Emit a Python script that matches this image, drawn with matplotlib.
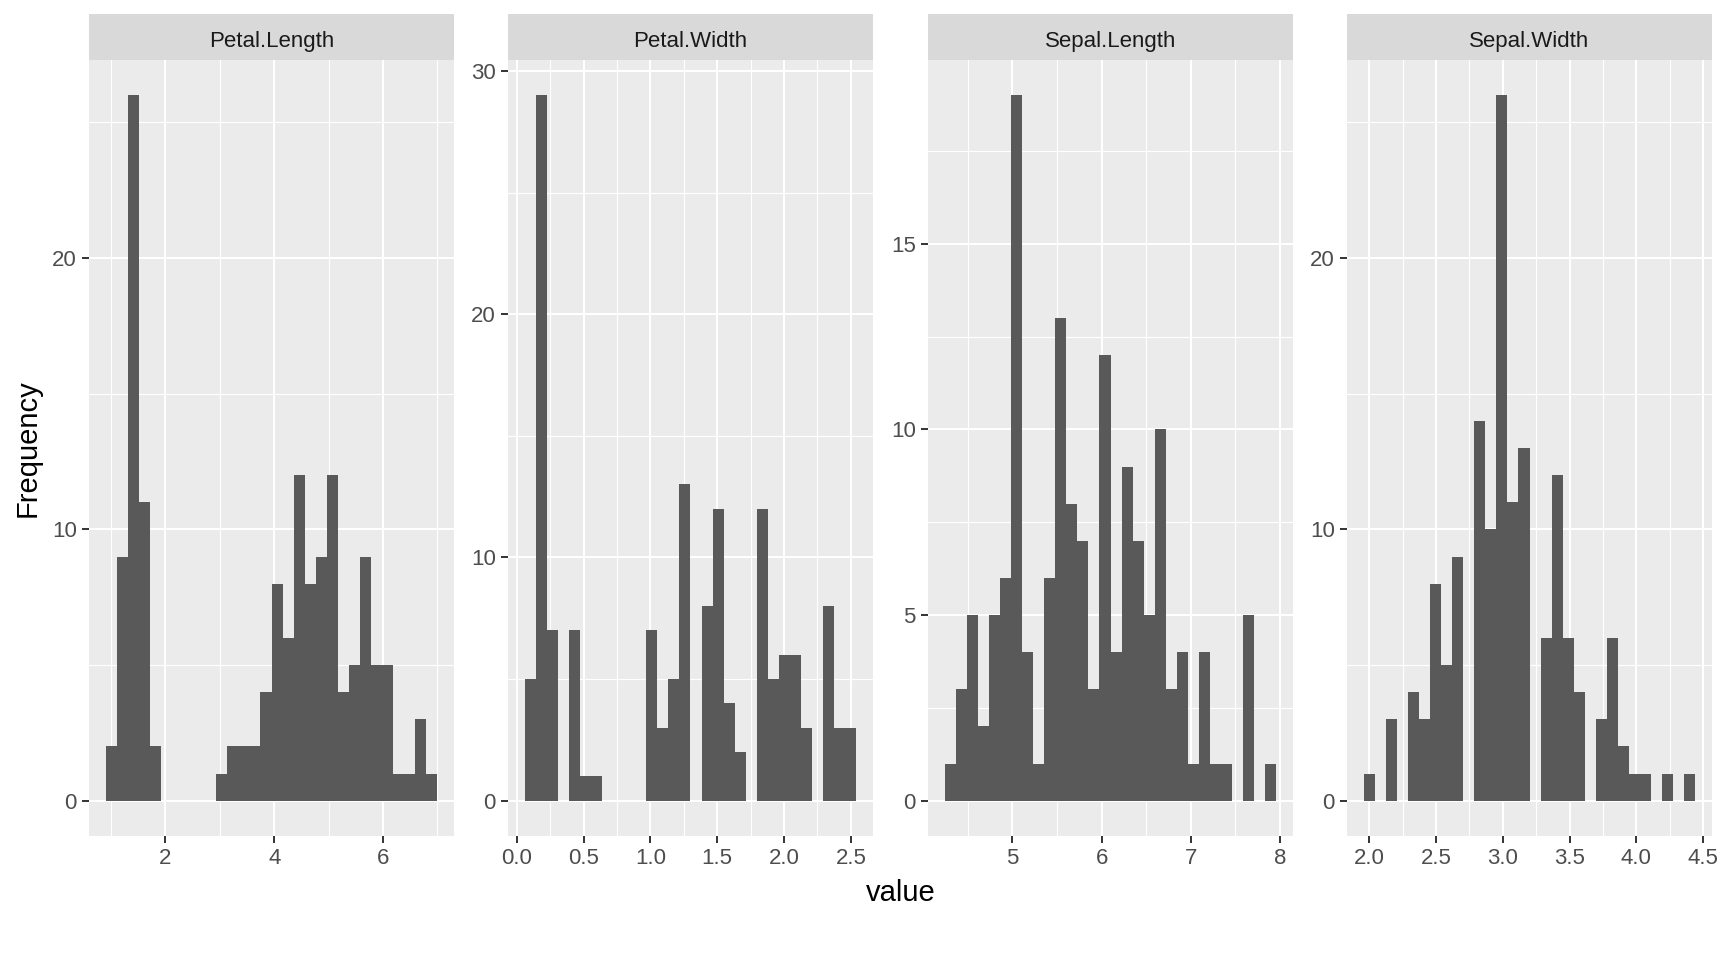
import numpy as np
import matplotlib
matplotlib.use("Agg")
import matplotlib.pyplot as plt
from matplotlib.ticker import MultipleLocator, FormatStrFormatter

plt.rcParams['font.family'] = ['Liberation Sans', 'DejaVu Sans']

# facet names
variables = ["Petal.Length", "Petal.Width", "Sepal.Length", "Sepal.Width"]

# min / max of each variable (30 bins, first and last bin centred on them)
petal_length_range = (1.0, 6.9)
petal_width_range = (0.1, 2.5)
sepal_length_range = (4.3, 7.9)
sepal_width_range = (2.0, 4.4)

# counts per bin
petal_length_counts = [2, 9, 26, 11, 2, 0, 0, 0, 0, 0,
                       1, 2, 2, 2, 4, 8, 6, 12, 8, 9,
                       12, 4, 5, 9, 5, 5, 1, 1, 3, 1]
petal_width_counts = [5, 29, 7, 0, 7, 1, 1, 0, 0, 0,
                      0, 7, 3, 5, 13, 0, 8, 12, 4, 2,
                      0, 12, 5, 6, 6, 3, 0, 8, 3, 3]
sepal_length_counts = [1, 3, 5, 2, 5, 6, 19, 4, 1, 6,
                       13, 8, 7, 3, 12, 4, 9, 7, 5, 10,
                       3, 4, 1, 4, 1, 1, 0, 5, 0, 1]
sepal_width_counts = [1, 0, 3, 0, 4, 3, 8, 5, 9, 0,
                      14, 10, 26, 11, 13, 0, 6, 12, 6, 4,
                      0, 3, 6, 2, 1, 1, 0, 1, 0, 1]

ranges = [petal_length_range, petal_width_range, sepal_length_range, sepal_width_range]
counts = [petal_length_counts, petal_width_counts, sepal_length_counts, sepal_width_counts]

W, H = 1728, 960
fig = plt.figure(figsize=(W / 100, H / 100), dpi=100)

# panel layout in pixels
panel_left = [89, 508, 928, 1347]
panel_w = 365
panel_top, panel_bottom = 60, 836
strip_top = 14

x_major = [2, 0.5, 1, 0.5]
x_fmt = ["%d", "%.1f", "%d", "%.1f"]
y_major = [10, 10, 5, 10]

for i, name in enumerate(variables):
    lo, hi = ranges[i]
    c = np.array(counts[i])
    nb = len(c)
    bw = (hi - lo) / (nb - 1)
    centers = lo + bw * np.arange(nb)

    ax = fig.add_axes([panel_left[i] / W, 1 - panel_bottom / H,
                       panel_w / W, (panel_bottom - panel_top) / H])
    ax.set_facecolor('#EBEBEB')
    ax.bar(centers, c, width=bw, color='#595959', linewidth=0, zorder=2)

    x0, x1 = lo - bw / 2, hi + bw / 2
    ax.set_xlim(x0 - 0.05 * (x1 - x0), x1 + 0.05 * (x1 - x0))
    ax.set_ylim(-0.05 * c.max(), 1.05 * c.max())

    ax.xaxis.set_major_locator(MultipleLocator(x_major[i]))
    ax.xaxis.set_minor_locator(MultipleLocator(x_major[i] / 2))
    ax.xaxis.set_major_formatter(FormatStrFormatter(x_fmt[i]))
    ax.yaxis.set_major_locator(MultipleLocator(y_major[i]))
    ax.yaxis.set_minor_locator(MultipleLocator(y_major[i] / 2))

    ax.grid(which='major', color='white', linewidth=1.5)
    ax.grid(which='minor', color='white', linewidth=0.8)
    ax.set_axisbelow(True)
    for s in ax.spines.values():
        s.set_visible(False)
    ax.tick_params(which='major', direction='out', length=4.8, width=1.4,
                   color='#333333', labelcolor='#4D4D4D', labelsize=16, pad=4)
    ax.tick_params(which='minor', length=0)

    # facet strip
    sax = fig.add_axes([panel_left[i] / W, 1 - panel_top / H,
                        panel_w / W, (panel_top - strip_top) / H])
    sax.set_facecolor('#D9D9D9')
    sax.set_xticks([])
    sax.set_yticks([])
    for s in sax.spines.values():
        s.set_visible(False)
    sax.text(0.5, 0.29, name, ha='center', va='baseline', fontsize=16,
             color='#1A1A1A', transform=sax.transAxes)

fig.text(901 / W, 1 - 893 / H, "value", ha='center', va='center', fontsize=21)
fig.text(28 / W, 1 - 448 / H, "Frequency", ha='center', va='center',
         rotation=90, fontsize=21)

fig.savefig("out.png", dpi=100, facecolor='white')
